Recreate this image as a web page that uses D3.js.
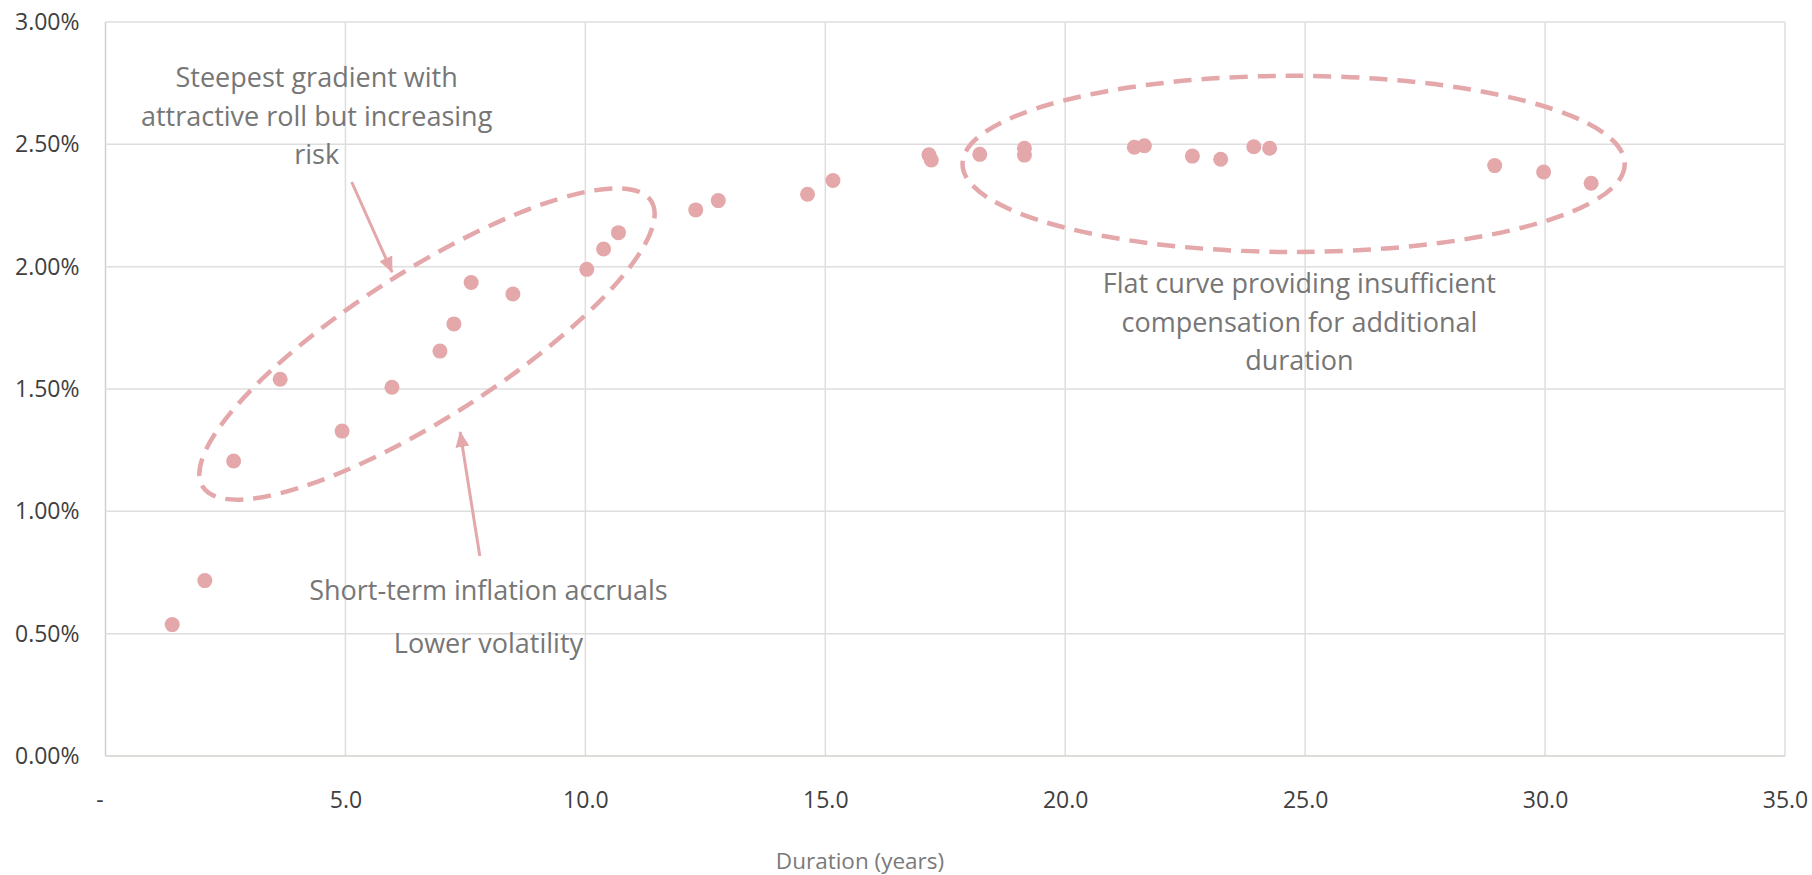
<!DOCTYPE html>
<html>
<head>
<meta charset="utf-8">
<script src="https://cdn.jsdelivr.net/npm/d3@7"></script>
<style>
  body { margin: 0; background: #fff; }
  text { font-family: "Open Sans", "Noto Sans", sans-serif; }
</style>
</head>
<body>
<div id="graph"></div>
<script>
var durations = [1.39, 2.07, 2.67, 3.64, 4.93, 5.97, 6.97, 7.26, 7.62, 8.49,
                 10.03, 10.38, 10.69, 12.30, 12.77, 14.63, 15.16, 17.16, 17.21, 18.22,
                 19.15, 19.15, 21.44, 21.65, 22.65, 23.24, 23.93, 24.26, 28.95, 29.97, 30.96];
var yields    = [0.537, 0.717, 1.206, 1.540, 1.328, 1.507, 1.655, 1.766, 1.935, 1.888,
                 1.989, 2.072, 2.139, 2.232, 2.270, 2.296, 2.352, 2.457, 2.436, 2.459,
                 2.456, 2.484, 2.488, 2.494, 2.452, 2.439, 2.490, 2.484, 2.413, 2.387, 2.341];

var xTicks = [0, 5, 10, 15, 20, 25, 30, 35];
var yTicks = [0, 0.5, 1.0, 1.5, 2.0, 2.5, 3.0];
var xTitle = "Duration (years)";

// annotations, positioned in data units
var notes = [
  {x: 4.40, y: 2.734, lines: ["Steepest gradient with", "attractive roll but increasing", "risk"]},
  {x: 7.98, y: 0.638, lines: ["Short-term inflation accruals"]},
  {x: 7.98, y: 0.421, lines: ["Lower volatility"]},
  {x: 24.88, y: 1.892, lines: ["Flat curve providing insufficient", "compensation for additional", "duration"]}
];
var rings = [
  {x: 6.70, y: 1.684, rx: 5.54, ry: 0.30, angle: -32.5},
  {x: 24.76, y: 2.420, rx: 6.90, ry: 0.36, angle: 0}
];
var arrows = [
  {x1: 5.13, y1: 2.346, x2: 5.97, y2: 1.978},
  {x1: 7.80, y1: 0.817, x2: 7.39, y2: 1.324}
];

var W = 1812, H = 875;
var margin = {top: 22, right: 27, bottom: 119, left: 105.5};
var w = W - margin.left - margin.right,
    h = H - margin.top - margin.bottom;

var pink = "#e4a7aa";

var svg = d3.select("div#graph").append("svg")
    .attr("width", W)
    .attr("height", H);

var g = svg.append("g")
    .attr("transform", "translate(" + margin.left + "," + margin.top + ")");

var x = d3.scaleLinear().domain([0, 35]).range([0, w]);
var y = d3.scaleLinear().domain([0, 3]).range([h, 0]);

// gridlines
g.selectAll("line.vgrid")
    .data(xTicks)
    .enter().append("line")
    .attr("class", "vgrid")
    .attr("x1", function(d) { return x(d); })
    .attr("x2", function(d) { return x(d); })
    .attr("y1", 0)
    .attr("y2", h)
    .attr("stroke", function(d) { return d === 0 ? "#d0d0cc" : "#dedede"; })
    .attr("stroke-width", 1.5);

g.selectAll("line.hgrid")
    .data(yTicks)
    .enter().append("line")
    .attr("class", "hgrid")
    .attr("x1", 0)
    .attr("x2", w)
    .attr("y1", function(d) { return y(d); })
    .attr("y2", function(d) { return y(d); })
    .attr("stroke", function(d) { return d === 0 ? "#d0d0cc" : "#dedede"; })
    .attr("stroke-width", 1.5);

// axes (labels only)
var xAxis = g.append("g")
    .attr("transform", "translate(0," + h + ")")
    .call(d3.axisBottom(x).tickValues(xTicks).tickSize(0).tickPadding(36)
      .tickFormat(function(d) { return d === 0 ? "-" : d3.format(".1f")(d); }));
xAxis.select(".domain").remove();
xAxis.selectAll("text")
    .attr("font-size", "23px")
    .attr("fill", "#404040")
    .style("font-family", "'Open Sans', sans-serif");
xAxis.selectAll(".tick").filter(function(d) { return d === 0; })
    .select("text").attr("dx", -6);

var yAxis = g.append("g")
    .call(d3.axisLeft(y).tickValues(yTicks).tickSize(0).tickPadding(26)
      .tickFormat(function(d) { return d3.format(".2f")(d) + "%"; }));
yAxis.select(".domain").remove();
yAxis.selectAll("text")
    .attr("font-size", "23px")
    .attr("fill", "#404040")
    .style("font-family", "'Open Sans', sans-serif");

svg.append("text")
    .attr("x", 860)
    .attr("y", 869)
    .attr("text-anchor", "middle")
    .attr("font-size", "22.5px")
    .attr("fill", "#7a7a7a")
    .text(xTitle);

// dashed rings
g.selectAll("ellipse.ring")
    .data(rings)
    .enter().append("ellipse")
    .attr("class", "ring")
    .attr("cx", 0)
    .attr("cy", 0)
    .attr("rx", function(d) { return x(d.rx) - x(0); })
    .attr("ry", function(d) { return y(0) - y(d.ry); })
    .attr("transform", function(d) {
      return "translate(" + x(d.x) + "," + y(d.y) + ") rotate(" + d.angle + ")";
    })
    .attr("fill", "none")
    .attr("stroke", pink)
    .attr("stroke-width", 4.5)
    .attr("stroke-dasharray", "18,10");

// arrows
svg.append("defs").append("marker")
    .attr("id", "head")
    .attr("markerUnits", "userSpaceOnUse")
    .attr("viewBox", "0 0 16 14")
    .attr("refX", 15)
    .attr("refY", 7)
    .attr("markerWidth", 16)
    .attr("markerHeight", 14)
    .attr("orient", "auto")
  .append("path")
    .attr("d", "M0,0 L16,7 L0,14 Z")
    .attr("fill", pink);

g.selectAll("line.arrow")
    .data(arrows)
    .enter().append("line")
    .attr("class", "arrow")
    .attr("x1", function(d) { return x(d.x1); })
    .attr("y1", function(d) { return y(d.y1); })
    .attr("x2", function(d) { return x(d.x2); })
    .attr("y2", function(d) { return y(d.y2); })
    .attr("stroke", pink)
    .attr("stroke-width", 3)
    .attr("marker-end", "url(#head)");

// points
g.selectAll("circle.node")
    .data(durations)
    .enter().append("circle")
    .attr("class", "node")
    .attr("cx", function(d) { return x(d); })
    .attr("cy", function(d, i) { return y(yields[i]); })
    .attr("r", 7.5)
    .attr("fill", pink);

// annotation text
var note = g.selectAll("text.note")
    .data(notes)
    .enter().append("text")
    .attr("class", "note")
    .attr("x", function(d) { return x(d.x); })
    .attr("y", function(d) { return y(d.y); })
    .attr("text-anchor", "middle")
    .attr("font-size", "27px")
    .attr("fill", "#767676");

note.selectAll("tspan")
    .data(function(d) { return d.lines.map(function(l) { return {t: l, x: x(d.x)}; }); })
    .enter().append("tspan")
    .attr("x", function(d) { return d.x; })
    .attr("dy", function(d, i) { return i === 0 ? 0 : 38.5; })
    .text(function(d) { return d.t; });
</script>
</body>
</html>
